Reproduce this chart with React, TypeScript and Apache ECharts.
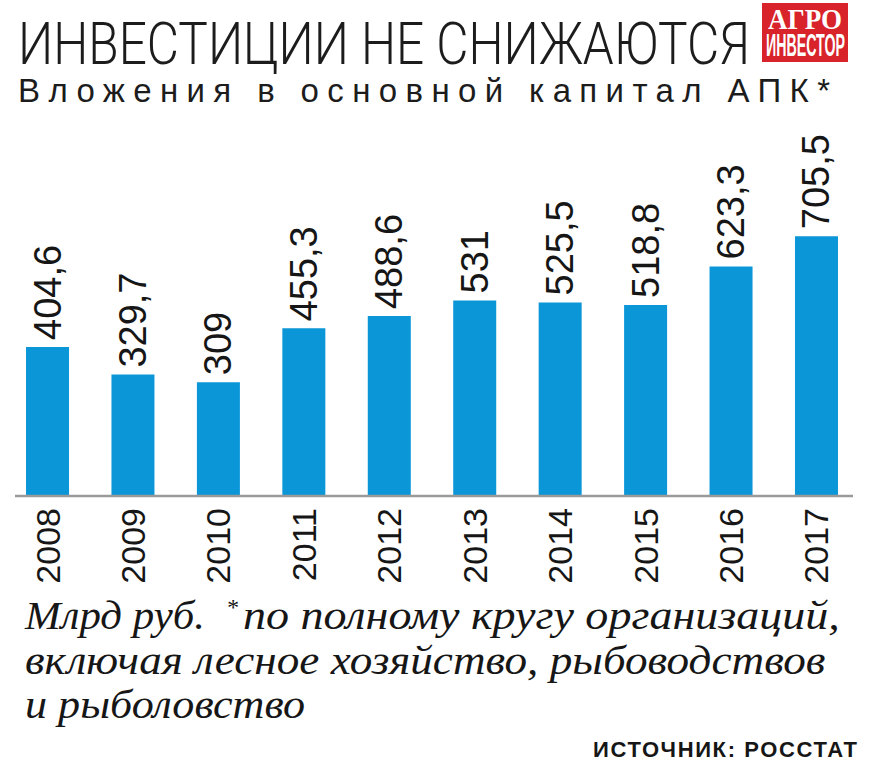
import React, { useEffect, useRef } from 'react';
import * as echarts from 'echarts';

const years = ['2008', '2009', '2010', '2011', '2012', '2013', '2014', '2015', '2016', '2017'];
const values = [404.6, 329.7, 309, 455.3, 488.6, 531, 525.5, 518.8, 623.3, 705.5];
const titleText = 'ИНВЕСТИЦИИ НЕ СНИЖАЮТСЯ';
const subtitleText = 'Вложения в основной капитал АПК*';
const unitText = 'Млрд руб.';
const starText = '*';
const noteLine1 = 'по полному кругу организаций,';
const noteLine2 = 'включая лесное хозяйство, рыбоводствов';
const noteLine3 = 'и рыболовство';
const sourceText = 'ИСТОЧНИК: РОССТАТ';
const logoTop = 'АГРО';
const logoBottom = 'ИНВЕСТОР';

const NARROW = '"Liberation Sans Narrow", "Liberation Sans", Arial, sans-serif';
const LIGHT = 'Roboto, "Liberation Sans Narrow", sans-serif';
const SANS = '"Liberation Sans", Arial, sans-serif';
const SERIF = '"Liberation Serif", "DejaVu Serif", serif';
const INK = '#161616';

let ctx: CanvasRenderingContext2D | null = null;
function measure(text: string, font: string): number {
  if (!ctx) ctx = document.createElement('canvas').getContext('2d');
  if (!ctx) return text.length * 10;
  ctx.font = font;
  return ctx.measureText(text).width;
}

function fitText(
  text: string,
  x: number,
  yMid: number,
  width: number,
  size: number,
  family: string,
  opts: { weight?: string; style?: string; fill?: string; align?: string } = {}
) {
  const weight = opts.weight || 'normal';
  const fstyle = opts.style || 'normal';
  const w = measure(text, `${fstyle} ${weight} ${size}px ${family}`);
  const scaleX = w > 0 ? width / w : 1;
  return {
    type: 'text',
    x,
    y: yMid,
    scaleX,
    z: 10,
    style: {
      text,
      fill: opts.fill || INK,
      fontSize: size,
      fontFamily: family,
      fontWeight: weight,
      fontStyle: fstyle,
      align: opts.align || 'left',
      textAlign: opts.align || 'left',
      verticalAlign: 'middle',
      textVerticalAlign: 'middle',
    },
  };
}

function plainText(
  text: string,
  x: number,
  yMid: number,
  size: number,
  family: string,
  opts: { weight?: string; style?: string; fill?: string } = {}
) {
  return {
    type: 'text',
    x,
    y: yMid,
    z: 10,
    style: {
      text,
      fill: opts.fill || INK,
      fontSize: size,
      fontFamily: family,
      fontWeight: opts.weight || 'normal',
      fontStyle: opts.style || 'normal',
      align: 'left',
      textAlign: 'left',
      verticalAlign: 'middle',
      textVerticalAlign: 'middle',
    },
  };
}

export default function App() {
  const ref = useRef<HTMLDivElement>(null);

  useEffect(() => {
    if (!ref.current) return;
    const chart = echarts.init(ref.current, null, { renderer: 'svg' });

    const subSize = 33;
    const srcSize = 22;

    const option: any = {
      animation: false,
      backgroundColor: '#ffffff',
      grid: { left: 4.8, right: 9.8, top: 201.4, bottom: 281, containLabel: false },
      xAxis: {
        type: 'category',
        data: years,
        axisLine: { show: false },
        axisTick: { show: false },
        axisLabel: {
          rotate: 90,
          margin: 12,
          fontSize: 34,
          fontFamily: SANS,
          color: INK,
          interval: 0,
        },
      },
      yAxis: {
        type: 'value',
        min: 0,
        max: 800,
        show: false,
        splitLine: { show: false },
      },
      series: [
        {
          type: 'bar',
          data: values,
          barWidth: 43,
          itemStyle: { color: '#0a96d7' },
          label: {
            show: true,
            position: 'top',
            rotate: 90,
            align: 'left',
            verticalAlign: 'middle',
            distance: 7,
            fontSize: 38,
            fontFamily: NARROW,
            color: INK,
            formatter: (p: any) => String(p.value).replace('.', ','),
          },
        },
      ],
      graphic: [
        {
          type: 'line',
          shape: { x1: 15, y1: 496, x2: 853, y2: 496 },
          style: { stroke: '#9a9a9a', lineWidth: 2.5 },
          z: 5,
        },
        fitText(titleText, 18, 43.5, 732, 60, LIGHT, { weight: '300', fill: '#1c1c1c' }),
        plainText(subtitleText, 18, 90, subSize, NARROW, { fill: '#1c1c1c' }),
        fitText(unitText, 25, 616, 180, 40, SERIF, { style: 'italic' }),
        plainText(starText, 226, 607, 24, SERIF, { style: 'italic' }),
        fitText(noteLine1, 243, 616, 597, 40, SERIF, { style: 'italic' }),
        fitText(noteLine2, 25, 660, 801, 40, SERIF, { style: 'italic' }),
        fitText(noteLine3, 25, 704, 280, 40, SERIF, { style: 'italic' }),
        plainText(sourceText, 593, 749, srcSize, NARROW, { weight: 'bold' }),
        {
          type: 'rect',
          shape: { x: 762, y: 3, width: 86, height: 59 },
          style: { fill: '#d8232a' },
          z: 9,
        },
        fitText(logoTop, 768, 19.5, 74, 30, SERIF, { weight: 'bold', fill: '#ffffff' }),
        fitText(logoBottom, 766, 45.5, 79, 32, NARROW, { weight: 'bold', fill: '#ffffff' }),
      ],
    };

    chart.setOption(option);

    const spaced: { text: string; target: number; font: string }[] = [
      { text: subtitleText, target: 812, font: `normal normal ${subSize}px ${NARROW}` },
      { text: sourceText, target: 264, font: `normal bold ${srcSize}px ${NARROW}` },
    ];
    const applySpacing = () => {
      const root = ref.current;
      if (!root) return;
      const nodes = root.querySelectorAll('text');
      nodes.forEach((n) => {
        const t = n.textContent || '';
        spaced.forEach((s) => {
          if (t === s.text) {
            const w = measure(s.text, s.font);
            const ls = (s.target - w) / (s.text.length - 1);
            n.setAttribute('letter-spacing', String(ls));
            (n as any).style.letterSpacing = ls + 'px';
          }
        });
      });
    };
    applySpacing();
    chart.on('finished', applySpacing);
    const raf = requestAnimationFrame(applySpacing);

    return () => {
      cancelAnimationFrame(raf);
      chart.dispose();
    };
  }, []);

  return (
    <div
      ref={ref}
      style={{ position: 'fixed', left: 0, top: 0, width: 869, height: 777, background: '#fff' }}
    />
  );
}
